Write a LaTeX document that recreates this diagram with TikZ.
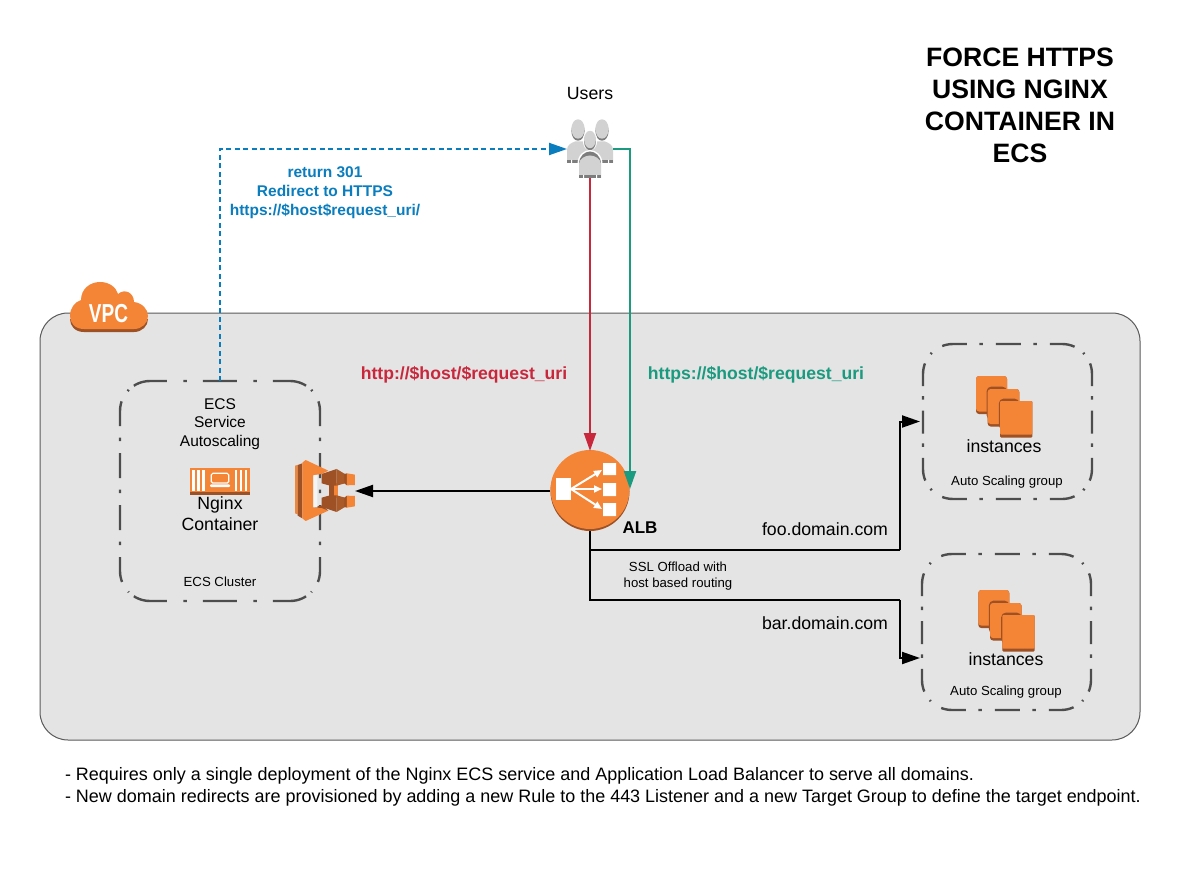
\documentclass[tikz,border=0pt]{standalone}
\usepackage{fontspec}
\setmainfont{Liberation Sans}
\usetikzlibrary{arrows.meta}

\definecolor{awsorange}{HTML}{F58536}
\definecolor{awsdark}{HTML}{9D5125}
\definecolor{vpcgrey}{HTML}{E4E4E4}
\definecolor{vpcline}{HTML}{5A5A5A}
\definecolor{frameline}{HTML}{4D4D4D}
\definecolor{userlight}{HTML}{D2D2D2}
\definecolor{userdark}{HTML}{7D7D7D}
\definecolor{redirectblue}{HTML}{0A7DBE}
\definecolor{httpred}{HTML}{C9283C}
\definecolor{httpsgreen}{HTML}{1A9A7E}

\tikzset{
    box/.style={rectangle, inner sep=0pt, outer sep=0pt},
    label13/.style={font=\fontsize{13.2}{16.2}\selectfont, align=center},
    label15/.style={font=\fontsize{15.5}{18.8}\selectfont, align=center},
    label18/.style={font=\fontsize{17.7}{21.3}\selectfont, align=center},
    groupline/.style={color=frameline, line width=2.4pt},
    wire/.style={line width=2pt, -{Triangle[length=18pt,width=12pt]}},
    plainwire/.style={line width=2pt},
    fanout/.style={white, line width=2pt, -{Triangle[length=8pt,width=7pt]}}
}

% Four separate sides, so that each side keeps its own dash rhythm
\newcommand{\groupframe}[5]{
    \draw[groupline, dash pattern=#2, dash phase=#3]
        ([shift={(8.8pt,-8.8pt)}]#1.north west) arc[start angle=135, end angle=90, radius=30pt]
        -- ([xshift=-30pt]#1.north east) arc[start angle=90, end angle=45, radius=30pt];
    \draw[groupline, dash pattern=#2, dash phase=#3]
        ([shift={(8.8pt,8.8pt)}]#1.south west) arc[start angle=225, end angle=270, radius=30pt]
        -- ([xshift=-30pt]#1.south east) arc[start angle=270, end angle=315, radius=30pt];
    \draw[groupline, dash pattern=#4, dash phase=#5]
        ([shift={(8.8pt,-8.8pt)}]#1.north west) arc[start angle=135, end angle=180, radius=30pt]
        -- ([yshift=30pt]#1.south west) arc[start angle=180, end angle=225, radius=30pt];
    \draw[groupline, dash pattern=#4, dash phase=#5]
        ([shift={(-8.8pt,-8.8pt)}]#1.north east) arc[start angle=45, end angle=0, radius=30pt]
        -- ([yshift=30pt]#1.south east) arc[start angle=0, end angle=-45, radius=30pt];
}

\begin{document}
\begin{tikzpicture}[x=1pt, y=-1pt]

    \useasboundingbox (0,0) rectangle (1200,896);
    \fill[white] (0,0) rectangle (1200,896);

    % The VPC area and its cloud
    \node[box, anchor=north west, draw=vpcline, fill=vpcgrey, line width=1pt, rounded corners=28pt,
        minimum width=1100pt, minimum height=427pt] (vpc) at (40,313) {};
    \fill[awsdark] (84,332) .. controls (75,332) and (70,326) .. (70,319) -- (148,319)
        .. controls (148,326) and (142,332) .. (134,332) -- cycle;
    \fill[awsorange] (84,329) .. controls (75,329) and (70,323) .. (70,316)
        .. controls (70,308) and (75,302) .. (81,300)
        .. controls (81,289) and (90,282) .. (100,282)
        .. controls (109,282) and (116,287) .. (118,294)
        .. controls (125,288) and (134,293) .. (134,302)
        .. controls (142,303) and (148,309) .. (148,316)
        .. controls (148,323) and (142,329) .. (134,329) -- cycle;
    \node[box, text=white, font=\bfseries\fontsize{26}{26}\selectfont, xscale=0.73, transform shape] (vpclabel) at (108.5,314) {VPC};

    % Title
    \node[box, font=\bfseries\fontsize{26.6}{32}\selectfont, align=center] (title) at (1020,105) {FORCE HTTPS\\USING NGINX\\CONTAINER IN\\ECS};

    % Users
    \node[box, minimum width=46pt, minimum height=58pt] (users) at (590,149) {};
    \node[label18] (userslabel) at (590,93) {Users};
    \fill[userdark] (578,131) ellipse[x radius=6.6, y radius=9.7];
    \fill[userdark] (602,131) ellipse[x radius=6.6, y radius=9.7];
    \fill[userlight] (578,129) ellipse[x radius=6.6, y radius=9.7];
    \fill[userlight] (602,129) ellipse[x radius=6.6, y radius=9.7];
    \fill[userlight] (567,163) -- (567,150) .. controls (567,145) and (571,143) .. (575,141.5)
        -- (605,141.5) .. controls (609,143) and (613,145) .. (613,150) -- (613,163) -- cycle;
    \fill[userdark] (567,160.5) rectangle (613,163);
    \fill[white] (571,160) rectangle (572,163) (608,160) rectangle (609,163);
    \fill[white] (590,140.5) ellipse[x radius=7.2, y radius=10.2];
    \fill[userdark] (590,141.5) ellipse[x radius=5.9, y radius=8.7];
    \fill[userlight] (590,139.5) ellipse[x radius=5.9, y radius=8.7];
    % Shoulders of the one in front
    \fill[white] (577.5,164) .. controls (577.5,155) and (584,150) .. (590,150)
        .. controls (596,150) and (602.5,155) .. (602.5,164) -- (602.5,178.5) -- (577.5,178.5) -- cycle;
    \fill[userdark] (579,164) .. controls (579,156) and (585,151.5) .. (590,151.5)
        .. controls (595,151.5) and (601,156) .. (601,164) -- cycle;
    \fill[userlight] (579,178) -- (579,164) .. controls (579,159) and (585,155.5) .. (590,155.5)
        .. controls (595,155.5) and (601,159) .. (601,164) -- (601,178) -- cycle;
    \fill[userdark] (579,175.5) rectangle (601,178);
    \fill[white] (583,175) rectangle (584,178) (596,175) rectangle (597,178);

    % ECS cluster frame and its texts
    \node[box, anchor=north west, minimum width=200pt, minimum height=220pt] (ecscluster) at (120,381) {};
    \groupframe{ecscluster}{on 3.5pt off 16pt on 34pt off 16.5pt}{13pt}{on 3.5pt off 12pt on 25pt off 11.5pt}{1.75pt}
    \node[label15] (ecslabel) at (220,424) {ECS\\Service\\Autoscaling};
    \node[label18] (nginxlabel) at (220,513.5) {Nginx\\Container};
    \node[label13] (clusterlabel) at (220,582) {ECS Cluster};

    % Nginx container icon
    \fill[awsdark] (190,491) rectangle (250,494.5);
    \fill[awsorange] (190,467.5) rectangle (250,492);
    \foreach \sx in {193.7,198.7,203.7,235.8,240.8,245.8} {
        \fill[white] (\sx-1.25,469.5) rectangle (\sx+1.25,490.5);
    }
    \draw[white, line width=1.2pt, rounded corners=1.5pt] (211.3,473.3) rectangle (228.7,483);
    \fill[white, rounded corners=1pt] (210,484.3) rectangle (230,487);

    % ECS icon, drawn in the grid of the crop
    \node[box, minimum width=60pt, minimum height=70pt] (ecsicon) at (325,491) {};
    \begin{scope}[shift={(285,450)}, x=0.3333pt, y=-0.3333pt]
        \fill[awsorange] (30,47) -- (38,45) -- (38,193) -- (30,190) -- cycle;
        \fill[awsdark] (38,45) -- (52,40) -- (52,205) -- (38,197) -- cycle;
        \fill[awsorange] (52,38) -- (62,30) -- (130,62) -- (110,72) -- (85,76)
            -- (85,172) -- (110,172) -- (130,182) -- (62,213) -- (52,205) -- cycle;
        \fill[awsdark] (85,172) -- (112,166) -- (130,182) -- (110,174) -- cycle;
        \fill[white!60!vpcgrey] (85,76) -- (97,74) -- (97,172) -- (85,172) -- cycle;
        \fill[awsdark] (132,100) rectangle (147,145);
        \fill[awsorange] (147,100) rectangle (160,145);
        \fill[awsdark] (110,72) -- (155,57) -- (155,107) -- (135,107) -- (110,100) -- cycle;
        \fill[awsdark!85!awsorange] (155,57) -- (180,72) -- (180,100) -- (155,107) -- cycle;
        \fill[awsdark] (178,72) -- (186,70) -- (186,106) -- (178,100) -- cycle;
        \fill[awsorange] (186,70) -- (210,74) -- (210,105) -- (186,106) -- cycle;
        \fill[awsdark] (110,171) -- (155,186) -- (155,136) -- (135,136) -- (110,143) -- cycle;
        \fill[awsdark!85!awsorange] (155,186) -- (180,171) -- (180,143) -- (155,136) -- cycle;
        \fill[awsdark] (178,171) -- (186,173) -- (186,137) -- (178,143) -- cycle;
        \fill[awsorange] (186,173) -- (210,169) -- (210,138) -- (186,137) -- cycle;
    \end{scope}

    % ALB
    \node[box, circle, minimum size=80pt] (alb) at (590,491) {};
    \fill[awsdark] (590,491.5) circle[radius=39.5pt];
    \fill[awsorange] (590,489.5) circle[radius=39.5pt];
    \fill[white] (556,478) rectangle (571,500);
    \fill[white] (603,463) rectangle (616,475) (603,483) rectangle (616,496) (603,503) rectangle (616,516);
    \draw[fanout] (571,489) -- (602,470);
    \draw[fanout] (571,489) -- (602,489);
    \draw[fanout] (571,489) -- (602,509);
    \node[box, font=\bfseries\fontsize{17}{20}\selectfont] (alblabel) at (640,528) {ALB};

    % Target groups
    \node[box, anchor=north west, minimum width=169pt, minimum height=155pt] (asgfoo) at (923,344) {};
    \groupframe{asgfoo}{on 3.5pt off 13pt on 25pt off 12.5pt}{4pt}{on 3.5pt off 11pt on 23pt off 9.8pt}{1.75pt}
    \node[box, anchor=north west, minimum width=169pt, minimum height=156pt] (asgbar) at (922,554) {};
    \groupframe{asgbar}{on 3.5pt off 13pt on 25pt off 12.5pt}{4pt}{on 3.5pt off 11pt on 23pt off 10.3pt}{1.75pt}

    % Instance stacks
    \foreach \ox/\oy in {0/0, 2.3/214} {
        \begin{scope}[shift={(\ox,\oy)}]
            \fill[awsdark, rounded corners=3pt] (976,376) rectangle (1007,414);
            \fill[awsorange, rounded corners=3pt] (976,376) rectangle (1007,411.5);
            \fill[awsdark, rounded corners=5pt] (986.5,386.5) rectangle (1007,420);
            \fill[awsdark, rounded corners=3pt] (987.7,389) rectangle (1019.3,426.5);
            \fill[awsorange, rounded corners=3pt] (987.7,389) rectangle (1019.3,424);
            \fill[awsdark, rounded corners=5pt] (998.8,398.5) rectangle (1019.3,430);
            \fill[awsdark, rounded corners=1pt] (1000,401) rectangle (1032.3,437.5);
            \fill[awsorange, rounded corners=1pt] (1000,401) rectangle (1032.3,434.5);
        \end{scope}
    }
    \node[label18] (fooinstances) at (1004,445.7) {instances};
    \node[label13] (foogroup) at (1007,481.7) {Auto Scaling group};
    \node[label18] (barinstances) at (1006,659) {instances};
    \node[label13] (bargroup) at (1006,691.7) {Auto Scaling group};

    % Free ends of the routed lines
    \coordinate (foobend) at (900,550);
    \coordinate (barbend) at (900,600);
    \coordinate (fooin) at (920,421.5);
    \coordinate (barin) at (920,658);

    % Connectors
    \draw[wire, redirectblue, dash pattern=on 5pt off 3.5pt] (ecscluster.north) |- (users.west);
    \draw[wire, httpred] (users.south) -- (alb.north);
    \draw[wire, httpsgreen, shorten >=2pt] (users.east) -| (alb.east);
    \draw[wire] (alb.west) -- (ecsicon.east);
    \draw[plainwire] (alb.south) |- (foobend);
    \draw[wire] (foobend) |- (fooin);
    \draw[plainwire] (alb.south) |- (barbend);
    \draw[wire] (barbend) |- (barin);

    % Line labels
    \node[box, text=redirectblue, font=\bfseries\fontsize{15.5}{19}\selectfont, align=center] (redirectlabel) at (325,193) {return 301\\Redirect to HTTPS\\https://\$host\$request\_uri/};
    \node[box, text=httpred, font=\bfseries\fontsize{17.6}{20}\selectfont] (httplabel) at (464,375) {http://\$host/\$request\_uri};
    \node[box, text=httpsgreen, font=\bfseries\fontsize{17.6}{20}\selectfont] (httpslabel) at (756,375) {https://\$host/\$request\_uri};
    \node[label13] (ssllabel) at (678,576) {SSL Offload with\\host based routing};
    \node[label18] (foolabel) at (825,529) {foo.domain.com};
    \node[label18] (barlabel) at (825,623) {bar.domain.com};

    % Notes under the VPC
    \node[box, anchor=west, font=\fontsize{17.97}{22}\selectfont, align=left] (notes) at (65,787) {- Requires only a single deployment of the Nginx ECS service and Application Load Balancer to serve all domains.\\- New domain redirects are provisioned by adding a new Rule to the 443 Listener and a new Target Group to define the target endpoint.};

\end{tikzpicture}
\end{document}
